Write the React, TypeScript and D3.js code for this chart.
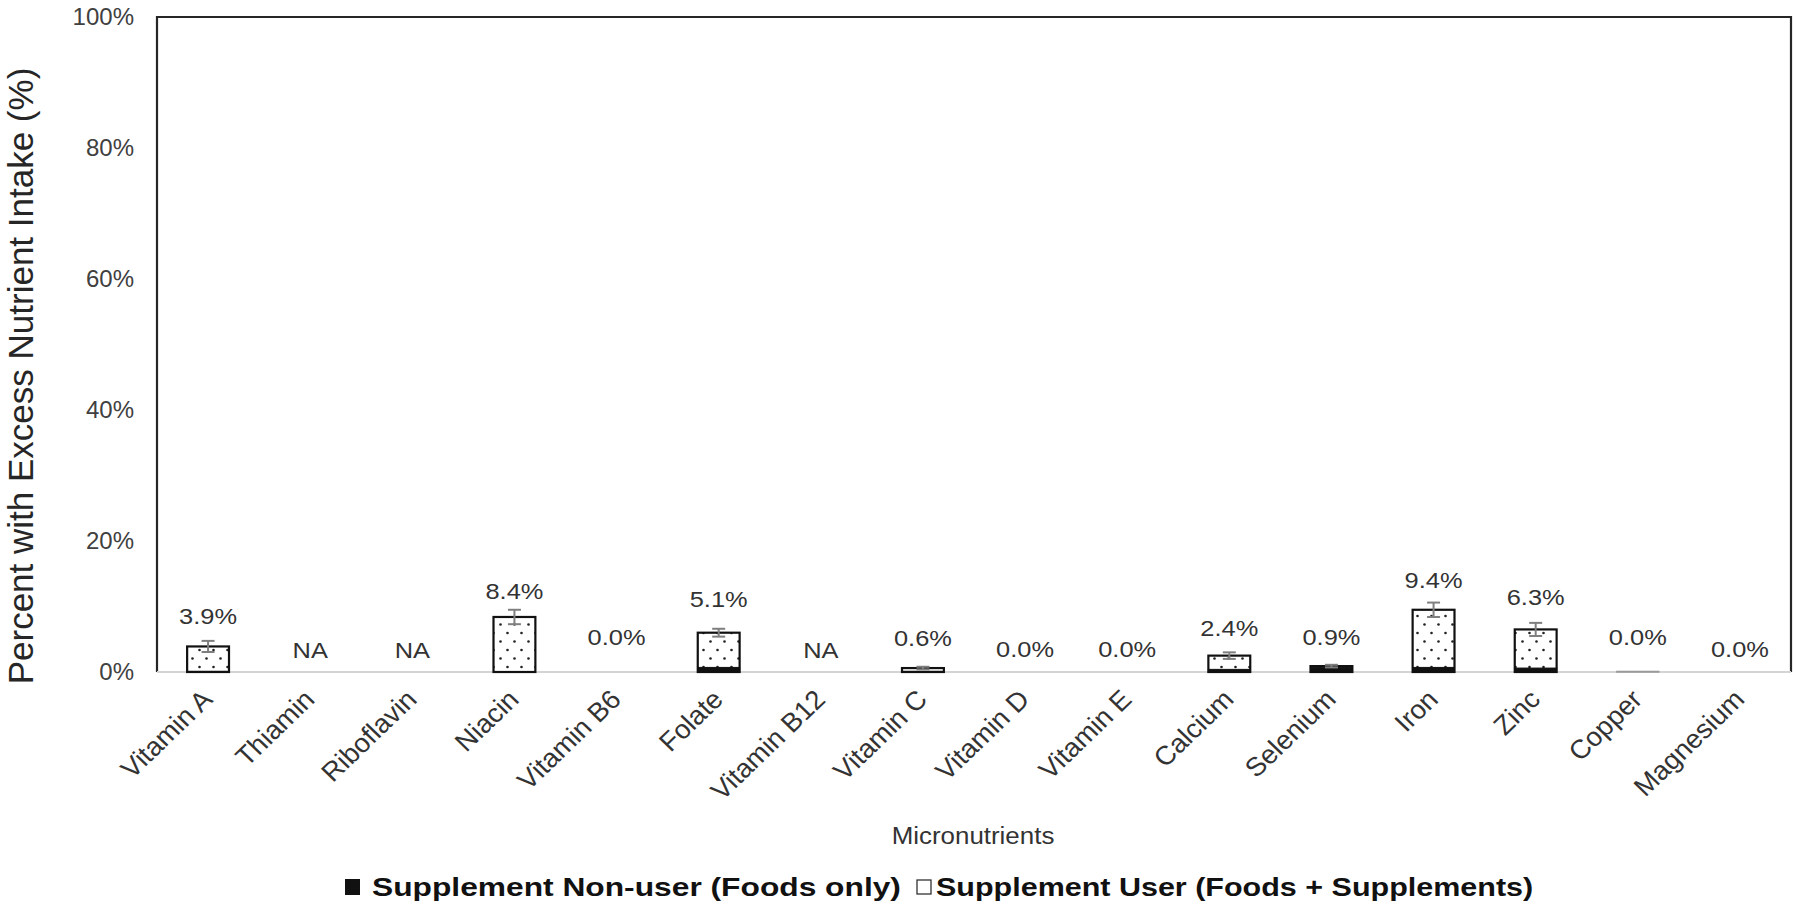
import React from "react";
import * as d3 from "d3";

const categories = [
  "Vitamin A", "Thiamin", "Riboflavin", "Niacin", "Vitamin B6", "Folate",
  "Vitamin B12", "Vitamin C", "Vitamin D", "Vitamin E", "Calcium",
  "Selenium", "Iron", "Zinc", "Copper", "Magnesium",
];
// bar heights (Supplement users, foods + supplements), percent
const userValues = [3.9, 0, 0, 8.4, 0, 6.0, 0, 0.6, 0, 0, 2.5, 0.9, 9.5, 6.5, 0.08, 0];
// black portion (Supplement non-users, foods only), percent
const nonUserValues = [0.1, 0, 0, 0, 0, 0.7, 0, 0.1, 0, 0, 0.4, 0.7, 0.7, 0.6, 0, 0];
// error bar half-widths, percent
const errorValues = [0.85, 0, 0, 1.1, 0, 0.6, 0, 0.2, 0, 0, 0.5, 0.2, 1.1, 1.0, 0, 0];
const labelTexts = [
  "3.9%", "NA", "NA", "8.4%", "0.0%", "5.1%", "NA", "0.6%", "0.0%", "0.0%",
  "2.4%", "0.9%", "9.4%", "6.3%", "0.0%", "0.0%",
];
// vertical level (percent) at which each data label sits
const labelLevels = [8.5, 3.4, 3.4, 12.4, 5.3, 11.1, 3.4, 5.2, 3.5, 3.5, 6.7, 5.3, 14.0, 11.5, 5.3, 3.5];
const yTicks = [0, 20, 40, 60, 80, 100];
const yTitle = "Percent with Excess Nutrient Intake (%)";
const xTitle = "Micronutrients";
const legendLabels = ["Supplement Non-user (Foods only)", "Supplement User (Foods + Supplements)"];

const W = 1800;
const H = 911;
const M = { left: 157, right: 1791, top: 17, bottom: 672 };
const FONT = "'Liberation Sans', Arial, Helvetica, sans-serif";

export default function App() {
  const x = d3.scaleBand<string>().domain(categories).range([M.left, M.right]).paddingInner(0.59).paddingOuter(0.295);
  const y = d3.scaleLinear().domain([0, 100]).range([M.bottom, M.top]);
  const bw = x.bandwidth();
  const cx = (c: string) => (x(c) as number) + bw / 2;
  const capW = 13;

  return (
    <svg
      width={W}
      height={H}
      viewBox={`0 0 ${W} ${H}`}
      style={{ position: "absolute", left: 0, top: 0, display: "block", background: "#fff" }}
      fontFamily={FONT}
    >
      <defs>
        <pattern id="dots" patternUnits="userSpaceOnUse" width={14} height={17}>
          <rect width={14} height={17} fill="#fff" />
          <circle cx={3.5} cy={4} r={1.3} fill="#222" />
          <circle cx={10.5} cy={12.5} r={1.3} fill="#222" />
        </pattern>
      </defs>

      {/* plot frame: left, top, right */}
      <path
        d={`M${M.left},${M.bottom} V${M.top} H${M.right} V${M.bottom}`}
        fill="none"
        stroke="#262626"
        strokeWidth={2.2}
      />
      {/* zero baseline */}
      <line x1={M.left} x2={M.right} y1={y(0)} y2={y(0)} stroke="#d4d4d4" strokeWidth={2} />

      {/* y ticks */}
      {yTicks.map((t) => (
        <text key={t} x={134} y={y(t)} dy="0.35em" textAnchor="end" fontSize={24} fill="#404040">
          {t}%
        </text>
      ))}

      {/* y title */}
      <text
        transform={`translate(33,${376}) rotate(-90)`}
        textAnchor="middle"
        fontSize={35}
        fill="#262626"
      >
        {yTitle}
      </text>

      {/* bars */}
      {categories.map((c, i) => {
        const u = userValues[i];
        const n = nonUserValues[i];
        const x0 = x(c) as number;
        return (
          <g key={c}>
            {u > 0 && (
              <rect
                x={x0}
                y={y(u)}
                width={bw}
                height={y(0) - y(u)}
                fill="url(#dots)"
                stroke={u < 0.2 ? "#9a9a9a" : "#111"}
                strokeWidth={u < 0.2 ? 1.5 : 2.2}
              />
            )}
            {n > 0 && (
              <rect x={x0} y={y(n)} width={bw} height={y(0) - y(n)} fill="#111" stroke="#111" strokeWidth={1} />
            )}
            {errorValues[i] > 0 && (
              <g stroke="#7f7f7f" strokeWidth={2}>
                <line x1={cx(c)} x2={cx(c)} y1={y(u + errorValues[i])} y2={y(Math.max(0, u - errorValues[i]))} />
                <line x1={cx(c) - capW / 2} x2={cx(c) + capW / 2} y1={y(u + errorValues[i])} y2={y(u + errorValues[i])} />
                <line
                  x1={cx(c) - capW / 2}
                  x2={cx(c) + capW / 2}
                  y1={y(Math.max(0, u - errorValues[i]))}
                  y2={y(Math.max(0, u - errorValues[i]))}
                />
              </g>
            )}
            <text
              transform={`translate(${cx(c)},${y(labelLevels[i])}) scale(1.13,1)`}
              dy="0.35em"
              textAnchor="middle"
              fontSize={22.5}
              fill="#333"
            >
              {labelTexts[i]}
            </text>
            <text
              transform={`translate(${cx(c) + 6},${y(0) + 29}) scale(1.04,1) rotate(-45)`}
              textAnchor="end"
              fontSize={26.5}
              fill="#333"
            >
              {c}
            </text>
          </g>
        );
      })}

      {/* x title */}
      <text transform={`translate(973,844) scale(1.08,1)`} textAnchor="middle" fontSize={24} fill="#333">
        {xTitle}
      </text>

      {/* legend */}
      <rect x={345} y={879} width={15} height={16} fill="#111" />
      <text transform="translate(372,896) scale(1.27,1)" fontSize={25} fontWeight="bold" fill="#111">
        {legendLabels[0]}
      </text>
      <rect x={917} y={880} width={14} height={14} fill="#fff" stroke="#333" strokeWidth={1.3} />
      <text transform="translate(936,896) scale(1.22,1)" fontSize={25} fontWeight="bold" fill="#111">
        {legendLabels[1]}
      </text>
    </svg>
  );
}
